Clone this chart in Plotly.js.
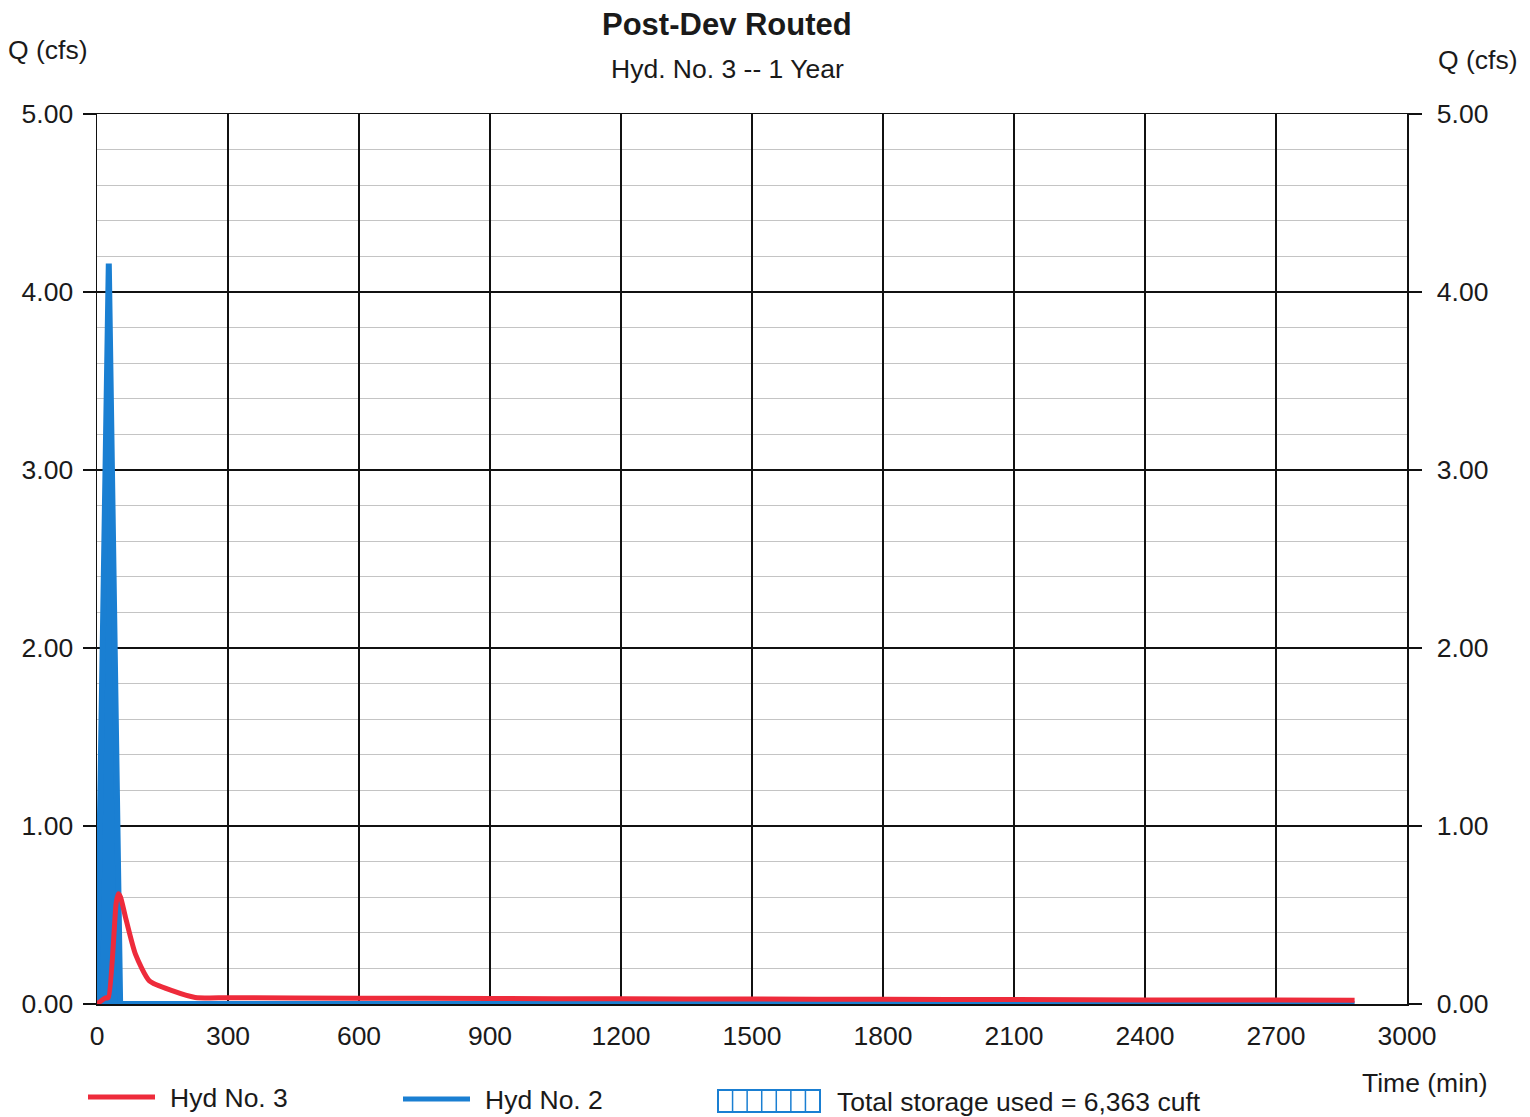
<!DOCTYPE html>
<html>
<head>
<meta charset="utf-8">
<script src="https://cdn.plot.ly/plotly-3.0.1.min.js"></script>
<style>
  html, body { margin: 0; padding: 0; background: #ffffff; }
  #chart { width: 1530px; height: 1117px; }
</style>
</head>
<body>
<div id="chart"></div>
<script>
// Hydrograph series (time in minutes, flow in cfs)
const hyd2Time = [0, 27, 53, 2880];
const hyd2Flow = [0, 4.16, 0, 0];

const hyd3Time = [0, 20, 26, 44, 49, 54, 65, 88, 120, 172, 225, 300, 600, 900, 1200, 1500, 1800, 2100, 2400, 2700, 2880];
const hyd3Flow = [0, 0.035, 0.035, 0.57, 0.62, 0.6, 0.49, 0.28, 0.13, 0.075, 0.037, 0.035, 0.033, 0.031, 0.029, 0.028, 0.026, 0.025, 0.023, 0.022, 0.021];

const legendNames = ['Hyd No. 3', 'Hyd No. 2', 'Total storage used = 6,363 cuft'];
const chartTitle = 'Post-Dev Routed';
const chartSubtitle = 'Hyd. No. 3 -- 1 Year';
const flowLabel = 'Q (cfs)';
const timeLabel = 'Time (min)';

const RED = '#ee2b3b';
const BLUE = '#1a7fd2';
const FONT = 'Liberation Sans, Arial, sans-serif';
const TXT = 26.5;

// Plot area geometry in pixels
const W = 1530, H = 1117;
const L = 97, R = 1407, T = 114, B = 1004;
const px = x => (x - L) / (R - L);
const py = y => (B - y) / (B - T);

const traces = [
  { // storage (area under inflow hydrograph)
    x: hyd2Time, y: hyd2Flow, type: 'scatter', mode: 'lines',
    fill: 'tozeroy', fillcolor: BLUE, line: { color: BLUE, width: 0 },
    showlegend: false, hoverinfo: 'skip'
  },
  {
    x: hyd2Time, y: hyd2Flow, type: 'scatter', mode: 'lines',
    name: legendNames[1], line: { color: BLUE, width: 6 }, showlegend: false
  },
  {
    x: hyd3Time, y: hyd3Flow, type: 'scatter', mode: 'lines',
    name: legendNames[0], line: { color: RED, width: 5, shape: 'spline', smoothing: 0.6 }, showlegend: false
  }
];

// Legend drawn beneath the plot
const shapes = [
  { type: 'line', xref: 'paper', yref: 'paper', x0: px(88), x1: px(155), y0: py(1097), y1: py(1097),
    line: { color: RED, width: 5 } },
  { type: 'line', xref: 'paper', yref: 'paper', x0: px(403), x1: px(470), y0: py(1099), y1: py(1099),
    line: { color: BLUE, width: 5 } },
  { type: 'rect', xref: 'paper', yref: 'paper', x0: px(718), x1: px(820), y0: py(1112), y1: py(1090),
    line: { color: BLUE, width: 2 }, fillcolor: 'rgba(0,0,0,0)' }
];
for (let i = 1; i < 7; i++) {
  const xx = 718 + i * (102 / 7);
  shapes.push({ type: 'line', xref: 'paper', yref: 'paper', x0: px(xx), x1: px(xx),
    y0: py(1112), y1: py(1090), line: { color: BLUE, width: 1.5 } });
}

const ann = (text, x, y, size, xanchor) => ({
  text: text, xref: 'paper', yref: 'paper', x: px(x), y: py(y),
  xanchor: xanchor || 'center', yanchor: 'middle', showarrow: false,
  font: { family: FONT, size: size, color: '#1a1a1a' }
});

const annotations = [
  ann('<b>' + chartTitle + '</b>', 727, 25, 31),
  ann(chartSubtitle, 727, 69, TXT),
  ann(flowLabel, 48, 50, TXT),
  ann(flowLabel, 1436, 60, TXT, 'left'),
  ann(timeLabel, 1425, 1083, TXT),
  ann(legendNames[0], 168, 1098, TXT, 'left'),
  ann(legendNames[1], 483, 1100, TXT, 'left'),
  ann(legendNames[2], 835, 1102, TXT, 'left')
];

const yCommon = {
  range: [0, 5], autorange: false, dtick: 1, tick0: 0, tickformat: '.2f',
  ticks: 'outside', ticklen: 13, tickwidth: 1.5, tickcolor: '#111',
  showline: true, linecolor: '#111', linewidth: 1.5,
  tickfont: { family: FONT, size: TXT, color: '#1a1a1a' },
  zeroline: false, fixedrange: true
};

const layout = {
  width: W, height: H,
  margin: { l: L, r: W - R, t: T, b: H - B, pad: 0 },
  paper_bgcolor: '#ffffff', plot_bgcolor: '#ffffff',
  showlegend: false,
  xaxis: {
    range: [0, 3000], autorange: false, dtick: 300, tick0: 0,
    showgrid: true, gridcolor: '#111', gridwidth: 1.2,
    showline: true, mirror: true, linecolor: '#111', linewidth: 1.5,
    layer: 'below traces',
    ticks: '', ticklabelstandoff: 8,
    tickfont: { family: FONT, size: TXT, color: '#1a1a1a' },
    zeroline: false, fixedrange: true
  },
  yaxis: Object.assign({}, yCommon, {
    side: 'left', ticklabelstandoff: 4,
    showgrid: true, gridcolor: '#111', gridwidth: 1.2,
    minor: { dtick: 0.2, showgrid: true, gridcolor: '#c4c4c4', gridwidth: 1, ticks: '' }
  }),
  yaxis2: Object.assign({}, yCommon, {
    side: 'right', overlaying: 'y', anchor: 'x', matches: 'y',
    showgrid: false, ticklabelstandoff: 10
  }),
  shapes: shapes,
  annotations: annotations
};

// empty trace on the right-hand axis so its ticks and labels are drawn
traces.push({ x: [], y: [], type: 'scatter', yaxis: 'y2', showlegend: false, hoverinfo: 'skip' });

Plotly.newPlot('chart', traces, layout, { staticPlot: true, displayModeBar: false });
</script>
</body>
</html>
